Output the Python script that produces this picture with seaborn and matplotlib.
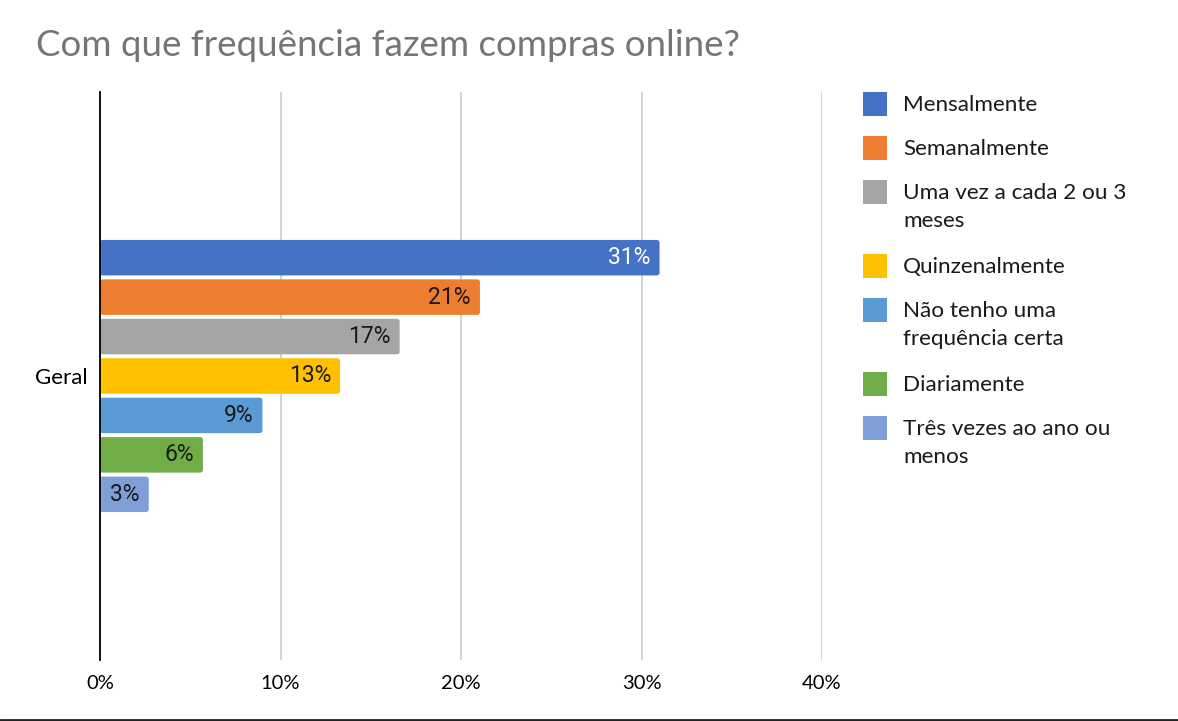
import textwrap
import numpy as np
import pandas as pd
import matplotlib
matplotlib.use("Agg")
import matplotlib.pyplot as plt
from matplotlib.patches import FancyBboxPatch, Rectangle
from matplotlib.lines import Line2D
import seaborn as sns

titulo = "Com que frequência fazem compras online?"
grupo = ["Geral"] * 7
categorias = ["Mensalmente", "Semanalmente", "Uma vez a cada 2 ou 3 meses",
              "Quinzenalmente", "Não tenho uma frequência certa", "Diariamente",
              "Três vezes ao ano ou menos"]
valores = [31.0, 21.05, 16.6, 13.3, 9.0, 5.7, 2.7]
cores = ["#4472C4", "#ED7D31", "#A5A5A5", "#FFC000", "#5B9BD5", "#70AD47", "#7F9FD9"]
ticks = [0, 10, 20, 30, 40]
tick_labels = ["0%", "10%", "20%", "30%", "40%"]

sns.set_theme(style="white")
plt.rcParams['font.family'] = ['Lato', 'DejaVu Sans']

W, H = 1178, 721
fig = plt.figure(figsize=(W / 100, H / 100), dpi=100)
ax_w, ax_h = 722, 568
ax = fig.add_axes([100 / W, 1 - 660 / H, ax_w / W, ax_h / H])

df = pd.DataFrame({"grupo": grupo, "categoria": categorias, "valor": valores})
sns.barplot(data=df, x="valor", y="grupo", hue="categoria", hue_order=categorias,
            palette=cores, orient="h", width=0.486, gap=0.1, saturation=1,
            ax=ax, legend=False)

ax.set_xlim(0, 40)
ax.set_xticks(ticks)
ax.set_xticklabels(tick_labels)
ax.grid(axis='x', color='#D0D0D0', lw=1.3)
ax.grid(axis='y', visible=False)
ax.set_axisbelow(True)
for s in ["top", "right", "bottom"]:
    ax.spines[s].set_visible(False)
ax.spines["left"].set_color("#000000")
ax.spines["left"].set_linewidth(1.3)
ax.spines["left"].set_zorder(5)
ax.tick_params(axis='x', length=0, pad=11, labelsize=14.5, labelcolor='#000000')
ax.tick_params(axis='y', length=0, pad=9, labelsize=16, labelcolor='#000000')
ax.set_xlabel("")
ax.set_ylabel("")

# rounded bar corners, keeping the positions computed by seaborn
ylim = ax.get_ylim()
aspect = (abs(ylim[1] - ylim[0]) / ax_h) / (40 / ax_w)
for i, cont in enumerate(ax.containers):
    for p in cont:
        x0, y0 = p.get_x(), p.get_y()
        w, h = p.get_width(), p.get_height()
        p.set_visible(False)
        fb = FancyBboxPatch((x0, y0), w, h, boxstyle="round,pad=0,rounding_size=0.15",
                            mutation_aspect=aspect, facecolor=p.get_facecolor(),
                            edgecolor="none", zorder=3)
        ax.add_patch(fb)
        ax.annotate(f"{w:.0f}%", xy=(w, y0 + h / 2), xytext=(-6.5, 0), textcoords="offset points",
                    ha="right", va="center", fontsize=16.5, family=["Roboto", "DejaVu Sans"],
                    color="white" if i == 0 else "#1a1a1a", zorder=4)

# legend drawn item by item (square on first line of each label)
y = 104
for c, lab in zip(cores, categorias):
    txt = textwrap.fill(lab, 22)
    nlines = txt.count("\n") + 1
    fig.add_artist(Rectangle(((863) / W, 1 - (y + 12) / H), 24 / W, 24 / H,
                             transform=fig.transFigure, facecolor=c, edgecolor="none"))
    fig.text(903 / W, 1 - (y - 9) / H, txt, fontsize=16.2, color="#1a1a1a",
             ha="left", va="top", linespacing=1.5)
    y += 44 + 30 * (nlines - 1)

fig.text(36 / W, 1 - 46 / H, titulo, fontsize=26.5, color="#757575", ha="left", va="center")
fig.add_artist(Line2D([0, 1], [1.5 / H, 1.5 / H], transform=fig.transFigure, color="#222222", lw=2))

fig.savefig("out.png", dpi=100)
